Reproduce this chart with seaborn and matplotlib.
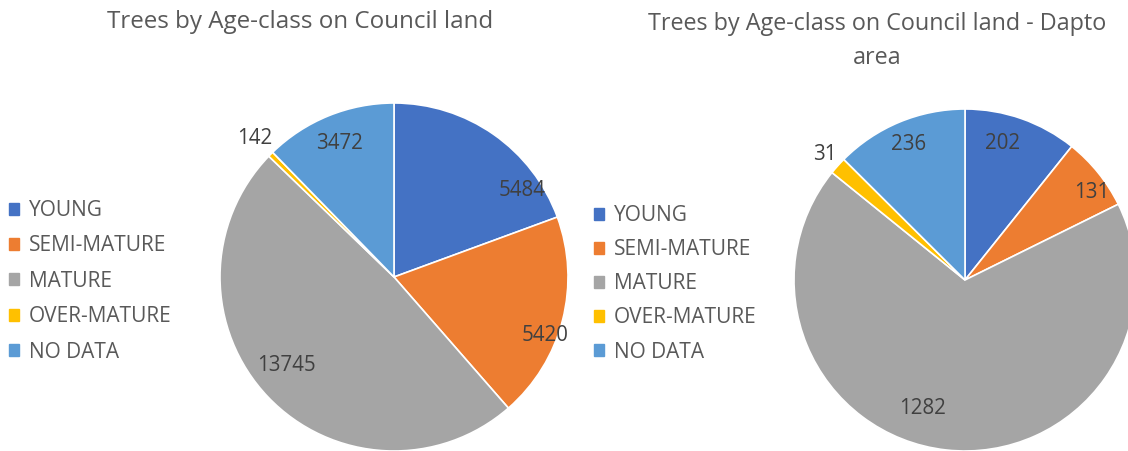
import matplotlib
matplotlib.use("Agg")
import matplotlib.pyplot as plt
import matplotlib.patches as mpatches
import seaborn as sns
import numpy as np

# Tree counts by age class
categories = ["YOUNG", "SEMI-MATURE", "MATURE", "OVER-MATURE", "NO DATA"]
council_counts = [5484, 5420, 13745, 142, 3472]
dapto_counts = [202, 131, 1282, 31, 236]
titles = ["Trees by Age-class on Council land",
          "Trees by Age-class on Council land - Dapto\narea"]

colors = ["#4472C4", "#ED7D31", "#A5A5A5", "#FFC000", "#5B9BD5"]

sns.set_theme(style="white")
plt.rcParams["font.family"] = ["Open Sans", "DejaVu Sans"]

W, H = 1128, 451
fig = plt.figure(figsize=(W / 100, H / 100), dpi=100)

# layout in pixels: pie centre, radius, legend anchor, title position,
# label distance (fraction of radius) and angle nudge per wedge
panels = [
    dict(values=council_counts, title=titles[0], center=(394, H - 277), r=174,
         legend=(9, H - 200), spacing=0.69, title_xy=(300, H - 22), tsize=17.4,
         dist=[0.89, 0.93, 0.80, 1.13, 0.83], nudge=[-21, -7, -4, 0, 0]),
    dict(values=dapto_counts, title=titles[1], center=(965, H - 280), r=171,
         legend=(594, H - 205), spacing=0.63, title_xy=(877, H - 41), tsize=16.8,
         dist=[0.83, 0.90, 0.79, 1.10, 0.86], nudge=[4, -4, -12, 0, 0]),
]

for p in panels:
    ax = fig.add_axes([0, 0, 1, 1])
    wedges, _ = ax.pie(p["values"], colors=colors, startangle=90, counterclock=False,
                       center=p["center"], radius=p["r"],
                       wedgeprops=dict(edgecolor="white", linewidth=1.2))
    ax.set_xlim(0, W)
    ax.set_ylim(0, H)
    ax.set_aspect("auto")
    ax.axis("off")

    cx, cy = p["center"]
    for w, v, d, n in zip(wedges, p["values"], p["dist"], p["nudge"]):
        ang = np.deg2rad((w.theta1 + w.theta2) / 2 + n)
        ax.text(cx + d * p["r"] * np.cos(ang), cy + d * p["r"] * np.sin(ang), str(v),
                ha="center", va="center", fontsize=14.8, color="#404040")

    ax.text(p["title_xy"][0], p["title_xy"][1], p["title"], ha="center", va="center",
            fontsize=p["tsize"], color="#595959", linespacing=1.6)

    handles = [mpatches.Patch(color=c, label=l) for c, l in zip(colors, categories)]
    leg = ax.legend(handles=handles, loc="upper left", bbox_to_anchor=p["legend"],
                    bbox_transform=ax.transData, frameon=False, fontsize=15,
                    handlelength=0.5, handleheight=0.5, handletextpad=0.45,
                    labelspacing=p["spacing"], borderaxespad=0, borderpad=0)
    for t in leg.get_texts():
        t.set_color("#595959")

fig.savefig("out.png", dpi=100)
